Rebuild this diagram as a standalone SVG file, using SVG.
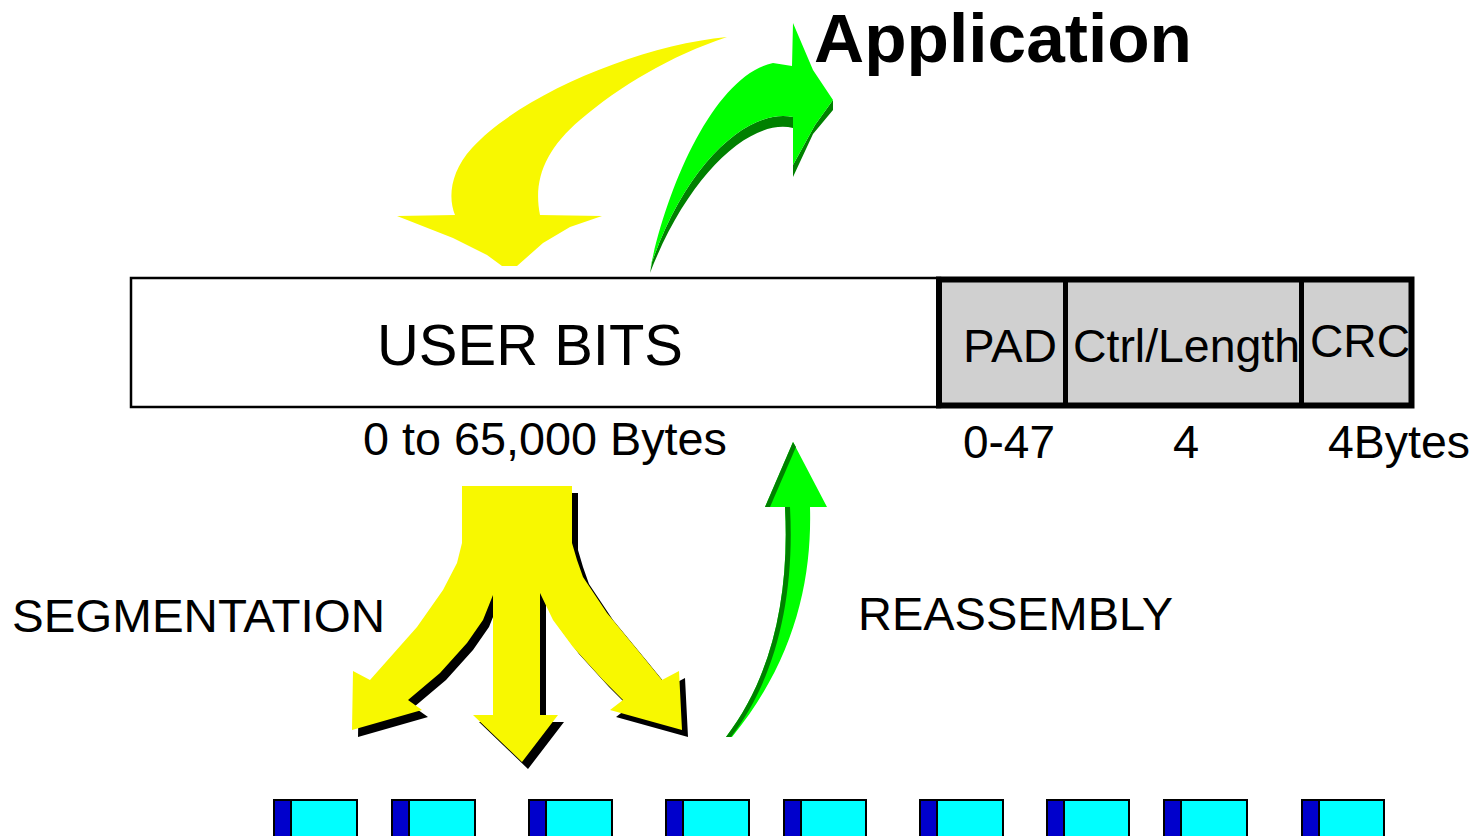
<svg xmlns="http://www.w3.org/2000/svg" width="1483" height="836" viewBox="0 0 1483 836">
<style>
.t{font-family:"Liberation Sans",Arial,sans-serif;fill:#000}
.yel{fill:#f8f800}
.lg{fill:#00ff00}
.dg{fill:#008000}
.blue{fill:#0000cc;stroke:#000;stroke-width:2}
.cyan{fill:#00ffff;stroke:#000;stroke-width:2}
</style>
<rect width="1483" height="836" fill="#fff"/>
<g id="connectors">
  <g id="app-to-userbits">
    <path class="yel" d="M727,37 C640,45 520,95 472,148 C450,172 448,198 455,215 L397,216 L453,238 L487,255 L502,266 L517,266 L543,243 L570,227 L602,216 L540,215 C533,180 545,150 580,120 C620,86 670,56 727,37 Z"/>
  </g>
  <g id="userbits-to-app">
    <path class="dg" d="M650,273 C688,175 750,118 793,128 L793,177 L813,134 L833,110 L833,100 L815,125 L793,165 L793,117 C750,108 688,160 652,262 Z"/>
    <path class="lg" d="M650,270 C667,185 715,75 773,63 L792,66 L793,23 L813,70 L833,100 L815,125 L793,165 L793,117 C750,108 688,160 652,262 Z"/>
  </g>
  <g id="segmentation">
    <polygon fill="#000" transform="translate(6,7)" points="462,486 572,486 572,543 577,560 583,577 607,613 640,653 662,680 679,671 682,730 610,710 623,700 603,680 573,647 553,620 540,593 540,715 558,715 522,762 473,715 493,715 493,595 483,620 467,643 440,673 408,700 422,710 352,730 353,671 370,680 417,627 443,590 457,563 462,543"/>
    <polygon class="yel" points="462,486 572,486 572,543 577,560 583,577 607,613 640,653 662,680 679,671 682,730 610,710 623,700 603,680 573,647 553,620 540,593 540,715 558,715 522,762 473,715 493,715 493,595 483,620 467,643 440,673 408,700 422,710 352,730 353,671 370,680 417,627 443,590 457,563 462,543"/>
  </g>
  <g id="reassembly">
    <path class="lg" d="M793,442 L827,507 L810,507 C812,580 795,660 732,737 L726,737 C770,680 790,600 785,507 L765,507 Z"/>
    <path class="dg" d="M785,507 L790,507 C795,600 775,680 731,737 L726,737 C770,680 790,600 785,507 Z"/>
    <polygon class="dg" points="793,442 765,507 770,507 796,447"/>
  </g>
</g>
<g id="title">
  <text class="t" x="814" y="62" font-size="69" font-weight="bold" textLength="378" lengthAdjust="spacingAndGlyphs">Application</text>
</g>
<g id="user-bits">
  <rect x="131" y="278" width="809" height="129" fill="#fff" stroke="#000" stroke-width="2.5"/>
  <text class="t" x="377" y="365" font-size="58" textLength="306" lengthAdjust="spacingAndGlyphs">USER BITS</text>
</g>
<g id="trailer">
  <rect x="939" y="279.5" width="472.5" height="126" fill="#d0d0d0" stroke="#000" stroke-width="6"/>
  <line x1="1065.5" y1="280" x2="1065.5" y2="405" stroke="#000" stroke-width="5"/>
  <line x1="1301.5" y1="280" x2="1301.5" y2="405" stroke="#000" stroke-width="5"/>
  <text class="t" x="963" y="362" font-size="46" textLength="94" lengthAdjust="spacingAndGlyphs">PAD</text>
  <text class="t" x="1073" y="362" font-size="46" textLength="227" lengthAdjust="spacingAndGlyphs">Ctrl/Length</text>
  <text class="t" x="1310" y="357" font-size="46" textLength="100" lengthAdjust="spacingAndGlyphs">CRC</text>
</g>
<g id="labels">
  <text class="t" x="363" y="455" font-size="47" textLength="364" lengthAdjust="spacingAndGlyphs">0 to 65,000 Bytes</text>
  <text class="t" x="963" y="458" font-size="47" textLength="92" lengthAdjust="spacingAndGlyphs">0-47</text>
  <text class="t" x="1173" y="458" font-size="47">4</text>
  <text class="t" x="1328" y="458" font-size="47" textLength="142" lengthAdjust="spacingAndGlyphs">4Bytes</text>
  <text class="t" x="12" y="632" font-size="47" textLength="373" lengthAdjust="spacingAndGlyphs">SEGMENTATION</text>
  <text class="t" x="858" y="630" font-size="47" textLength="315" lengthAdjust="spacingAndGlyphs">REASSEMBLY</text>
</g>
<g id="cells">
  <g id="cell1"><rect class="blue" x="274" y="800" width="17" height="40"/><rect class="cyan" x="291" y="800" width="66" height="40"/></g>
  <g id="cell2"><rect class="blue" x="392" y="800" width="17" height="40"/><rect class="cyan" x="409" y="800" width="66" height="40"/></g>
  <g id="cell3"><rect class="blue" x="529" y="800" width="17" height="40"/><rect class="cyan" x="546" y="800" width="66" height="40"/></g>
  <g id="cell4"><rect class="blue" x="666" y="800" width="17" height="40"/><rect class="cyan" x="683" y="800" width="66" height="40"/></g>
  <g id="cell5"><rect class="blue" x="784" y="800" width="17" height="40"/><rect class="cyan" x="801" y="800" width="65" height="40"/></g>
  <g id="cell6"><rect class="blue" x="920" y="800" width="17" height="40"/><rect class="cyan" x="937" y="800" width="66" height="40"/></g>
  <g id="cell7"><rect class="blue" x="1047" y="800" width="17" height="40"/><rect class="cyan" x="1064" y="800" width="65" height="40"/></g>
  <g id="cell8"><rect class="blue" x="1164" y="800" width="17" height="40"/><rect class="cyan" x="1181" y="800" width="66" height="40"/></g>
  <g id="cell9"><rect class="blue" x="1302" y="800" width="17" height="40"/><rect class="cyan" x="1319" y="800" width="65" height="40"/></g>
</g>
</svg>
